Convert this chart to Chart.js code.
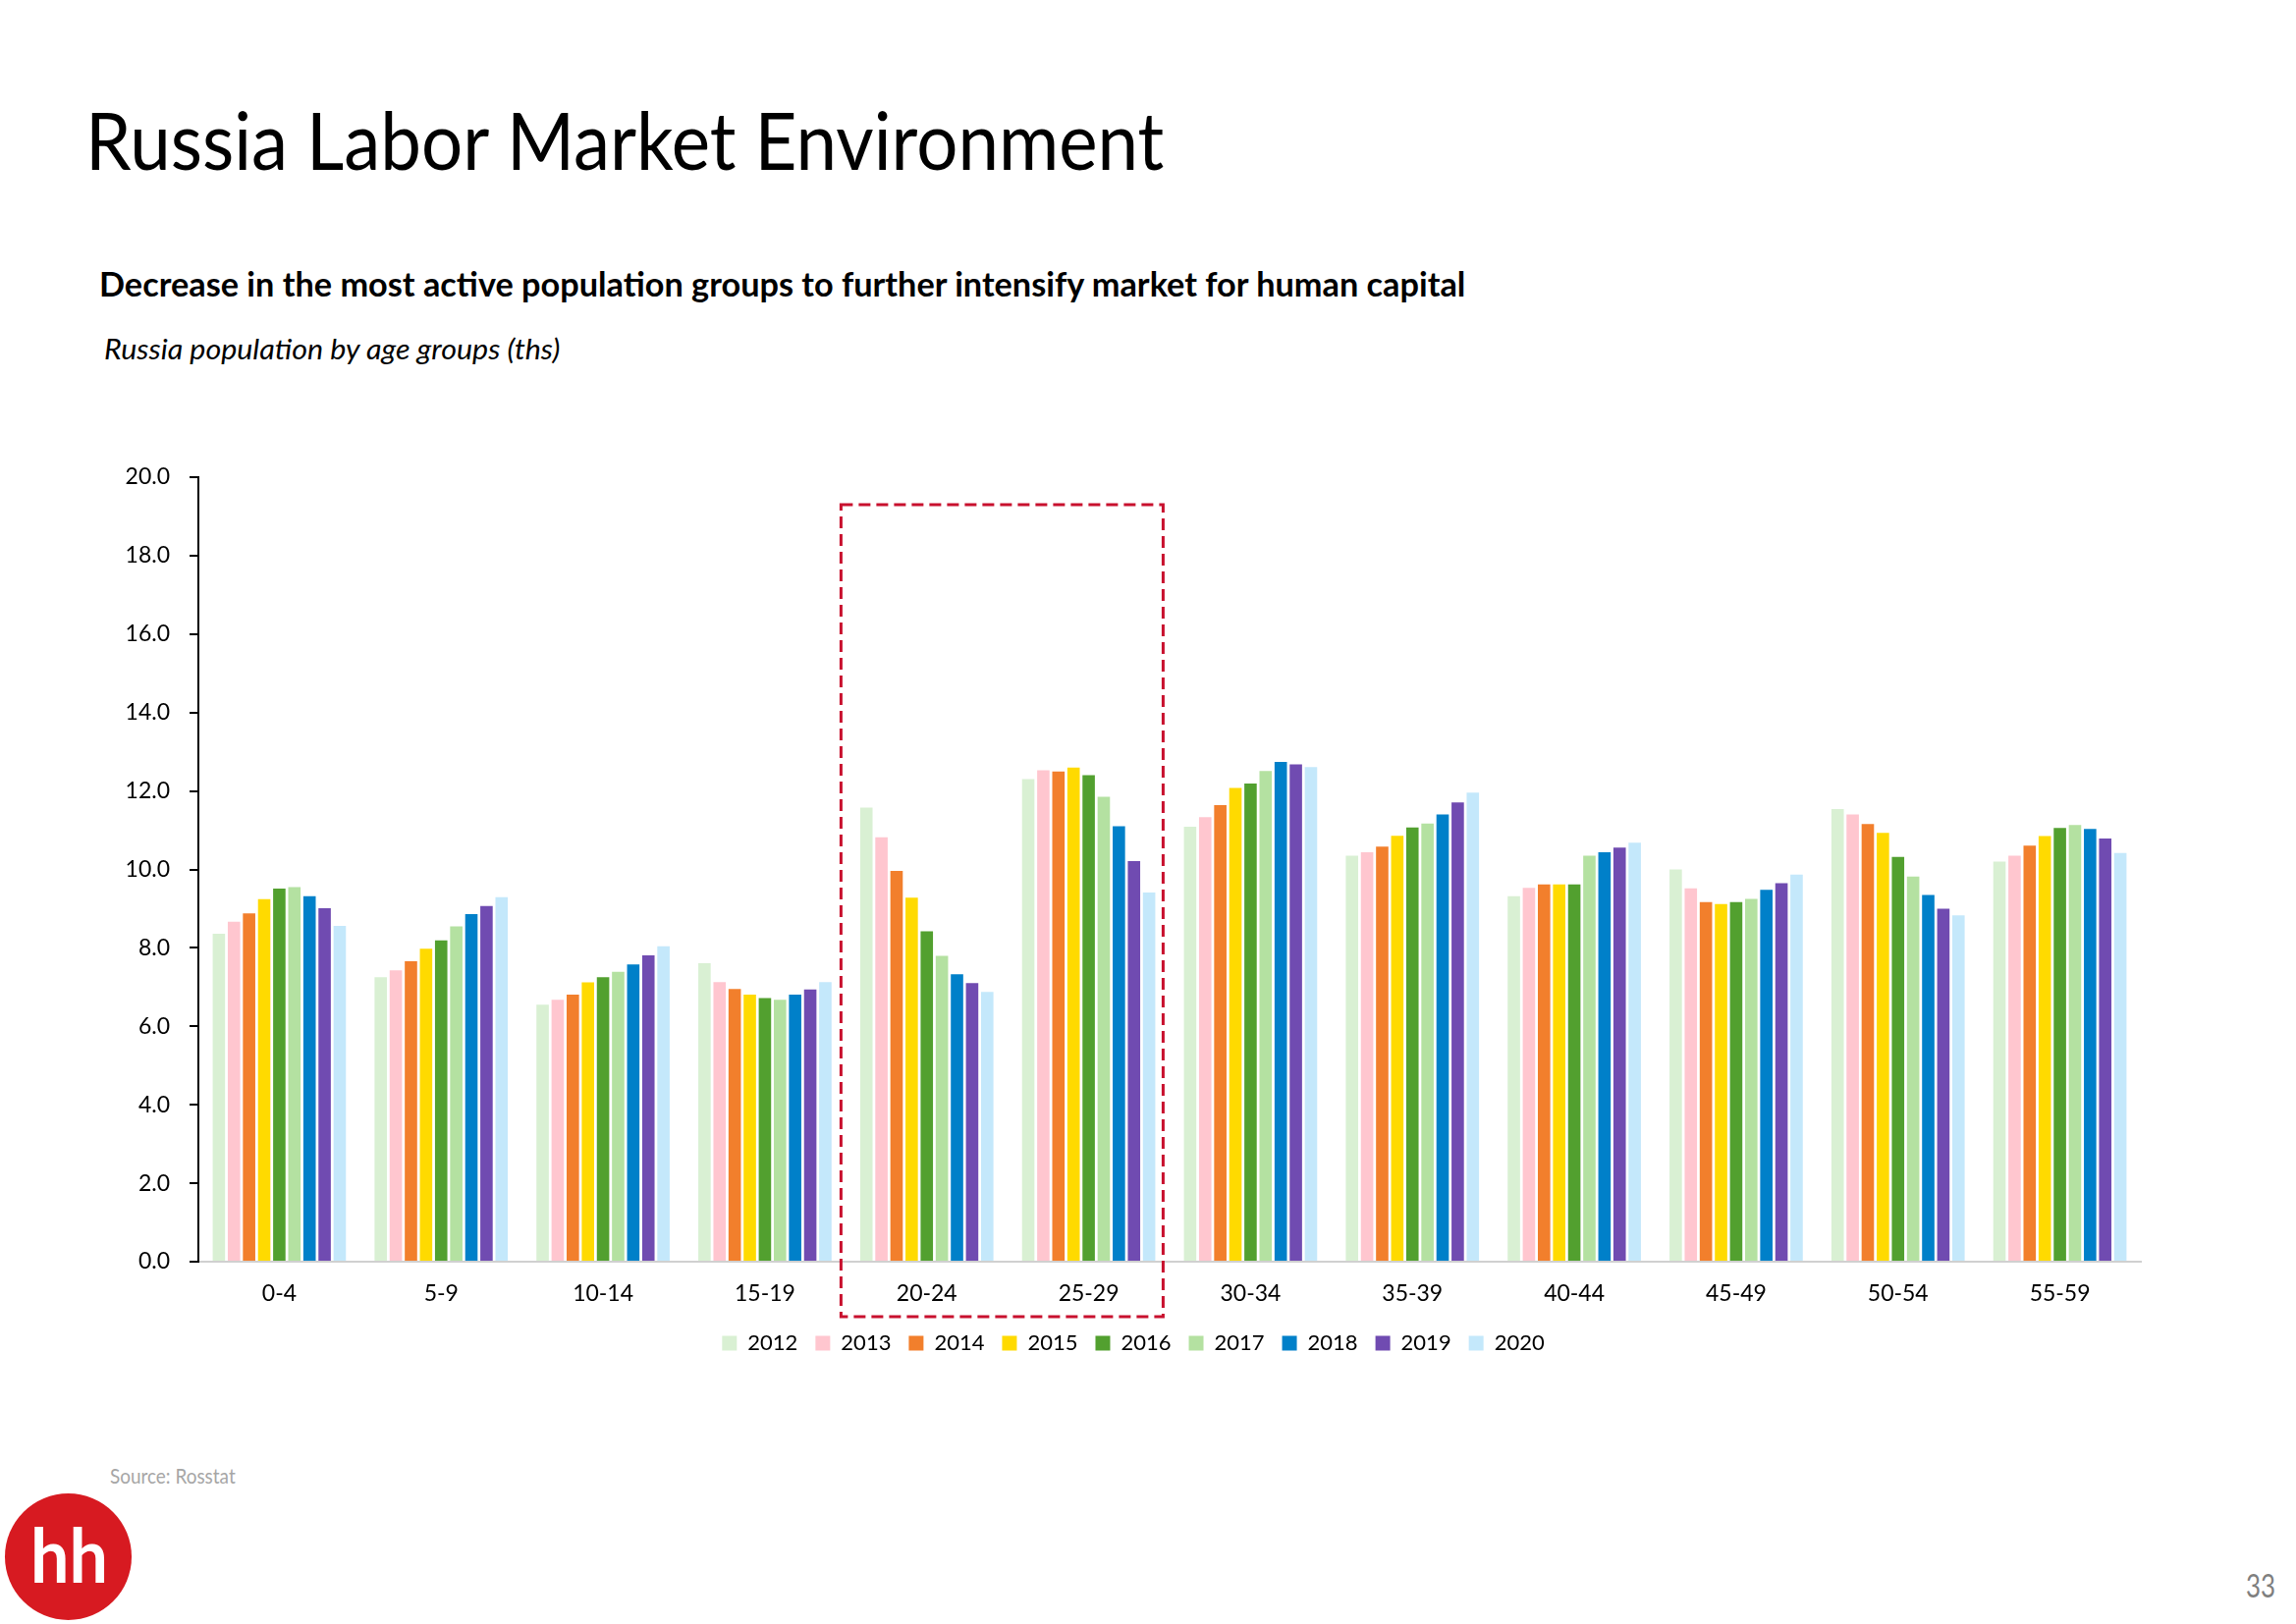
<!DOCTYPE html>
<html lang="en">
<head>
    <meta charset="UTF-8">
    <title>Russia Labor Market Environment</title>
    <script src="https://cdn.jsdelivr.net/npm/chart.js"></script>
    <style>
        body {
            margin: 0;
            width: 2338px;
            height: 1654px;
            background: #fff;
            font-family: Lato, sans-serif;
            position: relative;
            overflow: hidden;
        }
        .txt {
            position: absolute;
            white-space: nowrap;
            line-height: 1;
            transform-origin: 0 0;
        }
        #title { left: 87px; top: 100px; font-size: 82px; color: #000; }
        #subtitle { left: 101px; top: 272px; font-size: 34px; font-weight: 700; color: #000; }
        #caption { left: 106px; top: 341px; font-size: 28px; font-style: italic; color: #000; }
        #source { left: 112px; top: 1492px; font-size: 21px; color: #a6a6a6; }
        #page { left: 2287px; top: 1599px; font-size: 32px; color: #7f7f7f; }
        #logo {
            position: absolute;
            left: 5px; top: 1521px;
            width: 129px; height: 129px;
            border-radius: 50%;
            background: #d71a21;
        }
        #logo-text { left: 31px; top: 1544px; font-size: 77px; font-weight: 700; color: #fff; }
        #chart { position: absolute; left: 0; top: 0; }
    </style>
</head>
<body>
    <div class="txt" id="title" data-w="1098">Russia Labor Market Environment</div>
    <div class="txt" id="subtitle" data-w="1391">Decrease in the most active population groups to further intensify market for human capital</div>
    <div class="txt" id="caption" data-w="464">Russia population by age groups (ths)</div>
    <div class="txt" id="source" data-w="128">Source: Rosstat</div>
    <div id="logo"></div>
    <div class="txt" id="logo-text" data-w="79">hh</div>
    <div class="txt" id="page" data-w="30">33</div>
    <canvas id="chart" width="2338" height="1654"></canvas>

    <script>
        // squeeze text blocks to the width they take in the slide
        document.querySelectorAll('.txt[data-w]').forEach(function(el) {
            var k = Number(el.dataset.w) / el.scrollWidth;
            el.style.transform = 'scaleX(' + k + ')';
        });

        var ageGroups = ['0-4', '5-9', '10-14', '15-19', '20-24', '25-29', '30-34', '35-39', '40-44', '45-49', '50-54', '55-59'];
        var years = ['2012', '2013', '2014', '2015', '2016', '2017', '2018', '2019', '2020'];
        var yearColors = ['#d9f0d3', '#ffc6cf', '#f27f2c', '#ffda00', '#52a02f', '#b4e1a1', '#0080c9', '#704bb1', '#c4e8fb'];

        var pop2012 = [8.36, 7.25, 6.55, 7.61, 11.58, 12.30, 11.09, 10.35, 9.32, 10.00, 11.54, 10.20];
        var pop2013 = [8.67, 7.43, 6.68, 7.13, 10.82, 12.53, 11.33, 10.44, 9.53, 9.52, 11.40, 10.35];
        var pop2014 = [8.88, 7.66, 6.81, 6.95, 9.96, 12.50, 11.64, 10.58, 9.62, 9.17, 11.16, 10.61];
        var pop2015 = [9.24, 7.98, 7.12, 6.81, 9.28, 12.60, 12.08, 10.86, 9.62, 9.12, 10.93, 10.85];
        var pop2016 = [9.51, 8.19, 7.25, 6.72, 8.42, 12.40, 12.19, 11.07, 9.62, 9.17, 10.32, 11.06];
        var pop2017 = [9.55, 8.55, 7.39, 6.68, 7.80, 11.85, 12.51, 11.17, 10.35, 9.25, 9.82, 11.13];
        var pop2018 = [9.32, 8.86, 7.58, 6.81, 7.33, 11.10, 12.74, 11.40, 10.44, 9.48, 9.35, 11.03];
        var pop2019 = [9.01, 9.07, 7.81, 6.94, 7.10, 10.21, 12.68, 11.71, 10.56, 9.65, 9.00, 10.79];
        var pop2020 = [8.56, 9.29, 8.04, 7.13, 6.88, 9.41, 12.61, 11.96, 10.68, 9.87, 8.83, 10.42];
        var series = [pop2012, pop2013, pop2014, pop2015, pop2016, pop2017, pop2018, pop2019, pop2020];

        // highlighted groups 20-24 and 25-29 (x in category index, y in value units)
        var highlight = { x0: 3.47, x1: 5.46, y0: 19.3, y1: -1.4 };

        var dashedBox = {
            id: 'dashedBox',
            afterDraw: function(chart) {
                var ctx = chart.ctx;
                var xs = chart.scales.x, ys = chart.scales.y;
                var l = xs.getPixelForValue(highlight.x0), r = xs.getPixelForValue(highlight.x1);
                var t = ys.getPixelForValue(highlight.y0), b = ys.getPixelForValue(highlight.y1);
                ctx.save();
                ctx.strokeStyle = '#c8102e';
                ctx.lineWidth = 3;
                ctx.setLineDash([12, 6]);
                ctx.strokeRect(l, t, r - l, b - t);
                ctx.restore();
            }
        };

        Chart.defaults.font.family = 'Lato, sans-serif';
        Chart.defaults.color = '#000';

        new Chart(document.getElementById('chart'), {
            type: 'bar',
            data: {
                labels: ageGroups,
                datasets: years.map(function(y, i) {
                    return {
                        label: y,
                        data: series[i],
                        backgroundColor: yearColors[i],
                        categoryPercentage: 0.84,
                        barPercentage: 0.82
                    };
                })
            },
            options: {
                responsive: false,
                devicePixelRatio: 1,
                animation: false,
                layout: { padding: { top: 486, left: 128, right: 158, bottom: 265 } },
                plugins: {
                    tooltip: { enabled: false },
                    legend: {
                        position: 'bottom',
                        labels: {
                            font: { size: 22 },
                            boxWidth: 15,
                            boxHeight: 15,
                            padding: 18,
                            color: '#000'
                        }
                    }
                },
                scales: {
                    x: {
                        grid: { drawOnChartArea: false, drawTicks: false },
                        border: { color: '#d0d0d0', width: 2 },
                        ticks: { font: { size: 23 }, padding: 19, color: '#000' },
                        afterFit: function(s) { s.height = 54; }
                    },
                    y: {
                        min: 0,
                        max: 20,
                        ticks: {
                            stepSize: 2,
                            padding: 20,
                            font: { size: 23 },
                            color: '#000',
                            callback: function(v) { return v.toFixed(1); }
                        },
                        grid: { drawOnChartArea: false, drawTicks: true, tickLength: 9, color: '#000', lineWidth: 2 },
                        border: { color: '#000', width: 2 },
                        afterFit: function(s) { s.width = 74; }
                    }
                }
            },
            plugins: [dashedBox]
        });
    </script>
</body>
</html>
